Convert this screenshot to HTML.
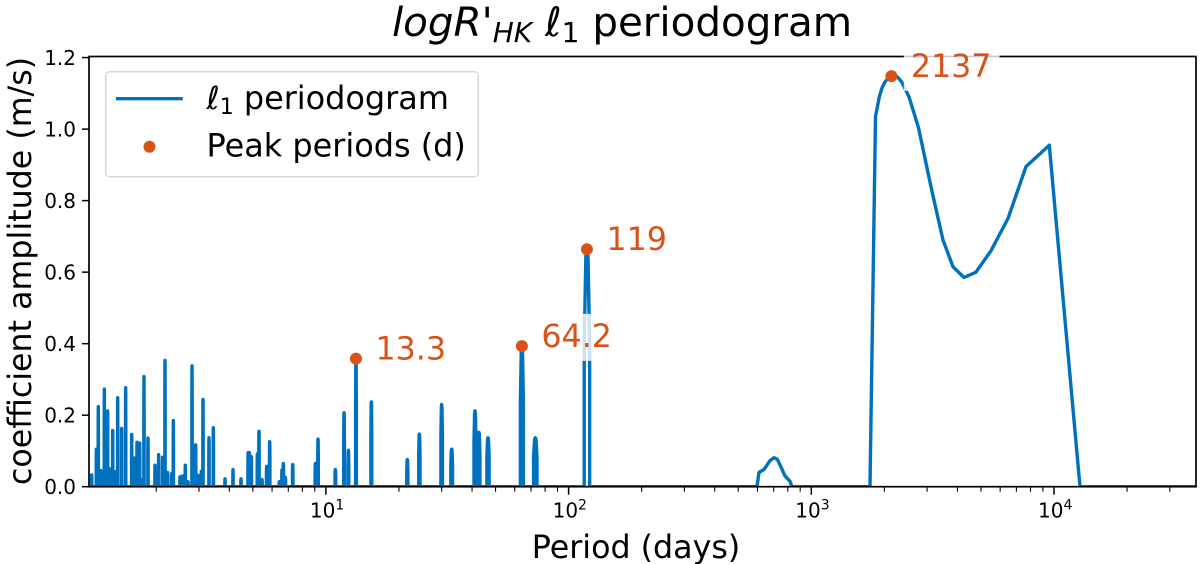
<!DOCTYPE html>
<html lang="en">
<head>
<meta charset="utf-8">
<title>logR'HK l1 periodogram</title>
<style>
html,body{margin:0;padding:0;background:#fff;width:1200px;height:564px;overflow:hidden}
svg{display:block;font-family:"DejaVu Sans","Liberation Sans",sans-serif}
</style>
</head>
<body>
<svg id="chart" xmlns="http://www.w3.org/2000/svg" width="1200" height="564" viewBox="0 0 1200 564">
  <defs><clipPath id="plot-clip"><rect x="89" y="56.5" width="1107" height="430.5"/></clipPath></defs>
  <text x="622" y="36" text-anchor="middle" font-size="40.4" fill="#000"><tspan font-style="italic">logR'</tspan><tspan font-style="italic" font-size="28" dy="6">HK</tspan><tspan dy="-6"> </tspan><tspan font-style="italic">ℓ</tspan><tspan font-size="28" dy="6">1</tspan><tspan dy="-6"> periodogram</tspan></text>
  <g id="series-layer" clip-path="url(#plot-clip)"></g>
  <g id="axes-layer"></g>
  <text x="636" y="558" text-anchor="middle" font-size="31.7" fill="#000">Period (days)</text>
  <text transform="translate(31 271) rotate(-90)" text-anchor="middle" font-size="31.7" fill="#000">coefficient amplitude (m/s)</text>
  <g id="marker-layer"></g>
  <g>
    <rect x="105.7" y="71.7" width="372.6" height="105" rx="4" fill="#fff" fill-opacity="0.8" stroke="#d8d8d8" stroke-width="1.5"/>
    <line x1="116" x2="182.7" y1="98.7" y2="98.7" stroke="#0072bd" stroke-width="3.4"/>
    <text x="206.5" y="109" font-size="31.9" fill="#000"><tspan font-style="italic">ℓ</tspan><tspan font-size="22" dy="5">1</tspan><tspan dy="-5"> periodogram</tspan></text>
    <circle cx="149.5" cy="146.7" r="6" fill="#d95319"/>
    <text x="206.5" y="156.7" font-size="31.9" fill="#000">Peak periods (d)</text>
  </g>
</svg>
<script>
// Narrow peaks of the periodogram
const spikePeriods = [1.084,1.133,1.154,1.184,1.222,1.261,1.289,1.323,1.352,1.387,1.44,1.496,1.584,1.624,1.666,1.709,1.747,1.78,1.849,1.976,2.046,2.125,2.173,2.228,2.315,2.352,2.505,2.569,2.635,2.703,2.808,2.907,2.972,3.067,3.116,3.298,3.437,3.84,4.142,4.469,4.78,4.837,4.93,5.22,5.30,5.455,5.70,5.867,6.43,6.595,6.68,6.81,7.30,9.05,9.28,10.94,11.88,12.38,13.3,15.39,21.65,24.27,29.99,32.98,41.15,42.7,46.55,64.2,72.9,119];
const spikeAmps = [0.033,0.105,0.224,0.045,0.273,0.212,0.05,0.157,0.042,0.249,0.163,0.277,0.146,0.08,0.124,0.122,0.02,0.308,0.136,0.06,0.09,0.082,0.353,0.04,0.037,0.185,0.028,0.03,0.06,0.014,0.338,0.117,0.032,0.043,0.244,0.137,0.165,0.022,0.048,0.022,0.095,0.095,0.084,0.092,0.155,0.02,0.057,0.126,0.014,0.047,0.065,0.026,0.062,0.065,0.133,0.048,0.207,0.102,0.358,0.237,0.076,0.147,0.23,0.105,0.212,0.152,0.137,0.393,0.137,0.664];
// Resolved long-period structure
const broadPeriods = [597,609,638,676,702,724,755,779,817,832,1745,1839,1906,1955,2012,2075,2137,2261,2356,2527,2760,3133,3488,3836,4258,4770,5502,6463,7665,9563,12796];
const broadAmps = [0,0.04,0.048,0.073,0.081,0.077,0.051,0.03,0.015,0,0,1.035,1.09,1.115,1.132,1.143,1.148,1.146,1.132,1.09,1.006,0.83,0.69,0.615,0.585,0.60,0.66,0.75,0.895,0.955,0];
// Annotated peaks
const peakPeriods = [13.3,64.2,119,2137];
const peakAmps = [0.358,0.393,0.664,1.148];
const peakLabels = ["13.3","64.2","119","2137"];
// Axis ticks
const yTickValues = [0,0.2,0.4,0.6,0.8,1.0,1.2];
const xTickExponents = [1,2,3,4];

const NS = "http://www.w3.org/2000/svg";
const xMin = 1.056, xMax = 38400;
const plotLeft = 89, plotRight = 1196, plotTop = 56.5, plotBottom = 486.7;
const decadePx = 242.7, zeroPx = 83.2;
function xScale(p){ return zeroPx + decadePx * Math.log10(p); }
function yScale(v){ return plotBottom - v * 357.6; }
function mk(tag, attrs, parent){
  const el = document.createElementNS(NS, tag);
  for (const k in attrs) el.setAttribute(k, attrs[k]);
  parent.appendChild(el);
  return el;
}
const seriesLayer = document.getElementById("series-layer");
const axesLayer = document.getElementById("axes-layer");
const markerLayer = document.getElementById("marker-layer");

// series path: uniform frequency grid means peak width grows with period; each peak is a narrow dome
const freqStep = 0.022, minHalfWidth = 0.1, shoulder = 0.6;
let d = "M" + xScale(xMin) + " " + yScale(0);
spikePeriods.forEach(function(p, i){
  const x = xScale(p), w = freqStep * p + minHalfWidth, a = spikeAmps[i];
  d += " L" + (x - w).toFixed(2) + " " + yScale(0).toFixed(2);
  d += " L" + (x - w).toFixed(2) + " " + yScale(a * shoulder).toFixed(2);
  d += " L" + (x - w * 0.4).toFixed(2) + " " + yScale(a * 0.97).toFixed(2);
  d += " L" + x.toFixed(2) + " " + yScale(a).toFixed(2);
  d += " L" + (x + w * 0.4).toFixed(2) + " " + yScale(a * 0.97).toFixed(2);
  d += " L" + (x + w).toFixed(2) + " " + yScale(a * shoulder).toFixed(2);
  d += " L" + (x + w).toFixed(2) + " " + yScale(0).toFixed(2);
});
broadPeriods.forEach(function(p, i){
  d += " L" + xScale(p).toFixed(2) + " " + yScale(broadAmps[i]).toFixed(2);
});
d += " L" + xScale(xMax) + " " + yScale(0);
const seriesPath = mk("path", {d: d, fill: "none", stroke: "#0072bd", "stroke-width": 3.4, "stroke-linejoin": "round"}, seriesLayer);



// y ticks
yTickValues.forEach(function(v){
  const y = yScale(v);
  const t = mk("line", {x1: plotLeft - 7, x2: plotLeft, y1: y, y2: y, stroke: "#000", "stroke-width": 1.5}, axesLayer);
  
  
  const l = mk("text", {x: 76, y: y + 7.5, "text-anchor": "end", "font-size": 20, fill: "#000"}, axesLayer);
  
  
  l.textContent = v.toFixed(1);
});
// x minor ticks
for (let e = 0; e <= 4; e++){
  for (let m = 2; m <= 9; m++){
    const p = m * Math.pow(10, e);
    if (p < xMin || p > xMax) continue;
    const x = xScale(p);
    const t = mk("line", {x1: x, x2: x, y1: plotBottom, y2: plotBottom + 5, stroke: "#000", "stroke-width": 1.1}, axesLayer);
    
    
  }
}
// x major ticks
xTickExponents.forEach(function(e){
  const x = xScale(Math.pow(10, e));
  const t = mk("line", {x1: x, x2: x, y1: plotBottom, y2: plotBottom + 8, stroke: "#000", "stroke-width": 1.5}, axesLayer);
  
  
  const l = mk("text", {x: x - 16, y: 517.5, "font-size": 20, fill: "#000"}, axesLayer);
  
  
  const base = mk("tspan", {}, l);
  base.textContent = "10";
  const sup = mk("tspan", {dy: -8, "font-size": 14}, l);
  sup.textContent = String(e);
});
// spines
const frame = mk("rect", {x: plotLeft, y: plotTop, width: plotRight - plotLeft, height: plotBottom - plotTop, fill: "none", stroke: "#000", "stroke-width": 1.7}, axesLayer);



// peak dots and labels with translucent white boxes
peakPeriods.forEach(function(p, i){
  const cx = xScale(p), cy = yScale(peakAmps[i]);
  const dot = mk("circle", {cx: cx, cy: cy, r: 6, fill: "#d95319"}, markerLayer);
  
  
  const tx = cx + 19.5, ty = cy + 0.7;
  const box = mk("rect", {y: ty - 33, height: 47, fill: "#fff", "fill-opacity": 0.8}, markerLayer);
  
  
  const label = mk("text", {x: tx, y: ty, "font-size": 31.7, fill: "#d95319"}, markerLayer);
  
  
  label.textContent = peakLabels[i];
  const len = label.getComputedTextLength();
  box.setAttribute("x", tx - 7);
  box.setAttribute("width", len + 15);
});
</script>
</body>
</html>
